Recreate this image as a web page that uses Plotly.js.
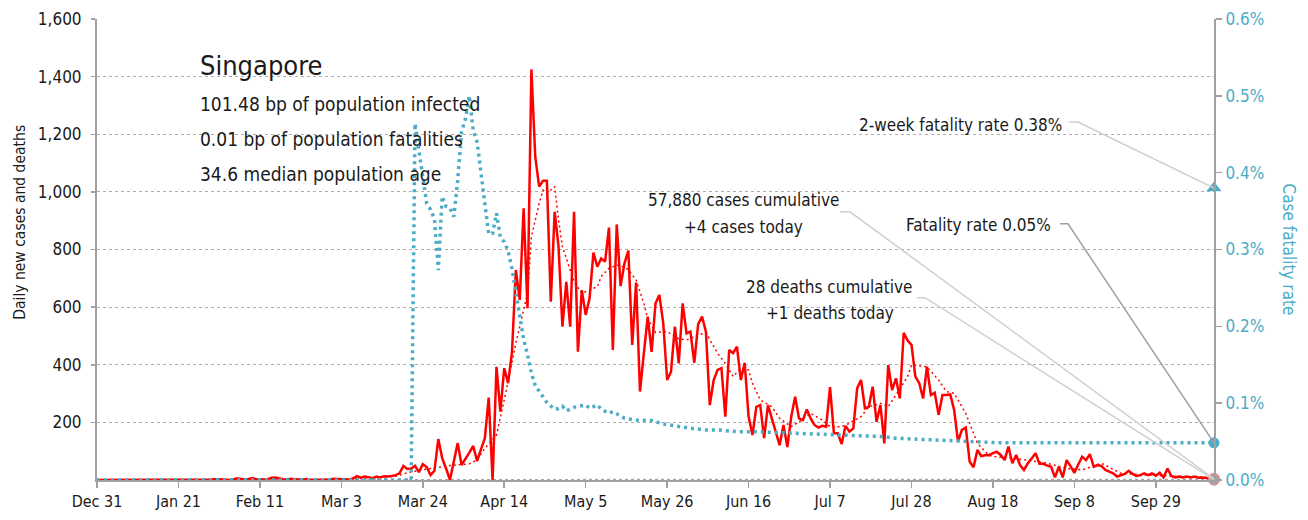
<!DOCTYPE html>
<html>
<head>
<meta charset="utf-8">
<script src="https://cdn.plot.ly/plotly-3.0.1.min.js"></script>
<style>
  html, body { margin: 0; padding: 0; background: #fff; }
  #chart { width: 1308px; height: 520px; }
</style>
</head>
<body>
<div id="chart"></div>
<script>
// day 0 = 2019-12-31, one value per day up to day 288 (2020-10-14)
var dailyCases = [
  0,0,0,0,0,0,0,0,0,0,
  0,0,0,0,0,0,0,0,0,0,
  0,0,0,0,1,2,0,1,1,2,
  3,3,3,2,0,0,6,4,2,3,
  7,3,2,2,3,8,9,5,3,2,
  4,3,1,1,3,0,1,1,2,3,
  2,4,4,2,2,2,5,13,8,12,
  10,6,12,9,13,12,14,17,23,49,
  38,40,49,27,55,45,17,32,142,76,
  40,0,64,128,52,76,95,118,66,106,
  145,286,0,393,237,388,336,445,729,625,
  943,596,1425,1122,1018,1039,1039,619,931,810,
  532,688,532,931,445,659,573,631,789,740,
  769,758,876,451,887,673,752,796,469,685,
  307,440,567,445,613,642,544,347,376,532,
  405,613,509,515,407,541,567,515,260,347,
  382,388,220,451,440,463,347,407,220,156,
  254,260,145,260,214,160,121,191,114,220,
  289,214,208,245,214,191,182,188,185,322,
  162,162,125,188,168,179,319,347,249,254,
  324,202,260,127,399,312,353,283,511,484,
  469,359,336,283,393,295,303,226,295,295,
  297,243,133,174,182,64,44,104,83,86,
  86,93,98,87,69,116,58,87,52,35,
  58,75,93,56,56,50,46,9,46,9,
  69,48,25,54,81,69,90,46,52,48,
  35,29,23,12,17,21,32,21,14,17,
  23,17,23,15,25,9,40,14,9,12,
  9,12,9,12,8,9,7,6,4
];

// 7-day average of cases, read at these days
var avgDays = [24,35,45,55,65,72,77,80,85,91,
  96,98,100,103,105,108,111,112,114,115,
  116,118,119,120,122,123,125,127,129,130,
  132,134,136,137,139,141,142,144,147,150,
  152,155,157,160,162,164,166,168,169,171,
  174,176,179,181,184,187,189,192,194,197,
  199,202,204,206,209,210,214,217,219,221,
  224,226,227,230,232,236,240,245,250,254,
  259,264,271,280,288];
var avgCases = [0.5,1.5,4,2,2.5,9,13,25,38,50,
  56,70,110,156,278,475,648,844,960,1006,
  995,1018,902,810,729,688,648,659,671,706,
  735,746,740,729,694,613,560,512,515,490,
  486,503,511,440,405,359,388,382,336,278,
  254,214,185,202,231,208,185,185,197,220,
  254,266,254,295,359,399,393,347,307,301,
  231,162,127,85,80,75,69,58,40,35,
  58,23,17,12,9];

// daily deaths (days with no deaths are 0)
var deathDays = [82,94,96,97,100,103,106,107,111,114,116,119,122,127,131,135,138,140,144,148,152,161,170,181,200,228,288];
var deathCounts = [2,1,1,1,1,1,1,1,1,1,1,1,1,1,1,1,1,1,1,1,1,1,1,1,1,1,1];

// case fatality rate, percent
var cfrDays = [0,81,82,83,84,85,86,87,88,89,
  90,91,92,93,94,95,96,97,98,99,
  100,101,102,103,104,105,106,107,108,109,
  110,111,112,113,115,116,118,119,120,121,
  123,126,127,129,130,132,133,135,136,139,
  143,146,150,153,157,160,165,170,176,181,
  186,191,196,203,206,212,217,222,227,232,288];
var cfrRate = [0,0,0.464,0.43,0.39,0.36,0.352,0.34,0.273,0.369,
  0.356,0.354,0.343,0.39,0.4535,0.47,0.50,0.455,0.44,0.404,
  0.36,0.32,0.321,0.347,0.316,0.31,0.298,0.275,0.243,0.214,
  0.183,0.163,0.139,0.123,0.109,0.101,0.092,0.093,0.096,0.09,
  0.0946,0.0977,0.0933,0.0977,0.092,0.0868,0.089,0.0833,0.0803,0.078,
  0.0773,0.0729,0.0694,0.0673,0.0651,0.0651,0.0629,0.0629,0.0616,0.0608,
  0.0595,0.0586,0.0573,0.0564,0.0543,0.053,0.0512,0.0499,0.0499,0.0486,0.0484];

var rateTicks = [0, 0.1, 0.2, 0.3, 0.4, 0.5, 0.6];
var rateLabels = ['0.0%', '0.1%', '0.2%', '0.3%', '0.4%', '0.5%', '0.6%'];

var lastDay = 288;
var casesToday = 4;
var deathsToday = 1;
var fatalityRate = 0.0484;
var twoWeekRate = 0.38;

var teal = '#4bacc6';
var red = '#ff0000';
var font = 'DejaVu Sans Condensed, Liberation Sans Narrow, sans-serif';

function dayToDate(i) {
  var d = new Date(Date.UTC(2019, 11, 31 + i));
  return d.toISOString().slice(0, 10);
}

var caseDates = dailyCases.map(function(v, i) { return dayToDate(i); });
var deaths = dailyCases.map(function() { return 0; });
deathDays.forEach(function(d, k) { deaths[d] = deathCounts[k]; });
var lastDate = dayToDate(lastDay);

var traces = [
  {
    x: caseDates, y: deaths, type: 'scatter', mode: 'lines',
    line: {color: '#a6a6a6', width: 2, dash: 'dot'}, hoverinfo: 'skip'
  },
  {
    x: caseDates, y: dailyCases, type: 'scatter', mode: 'lines',
    line: {color: red, width: 2.5}
  },
  {
    x: avgDays.map(dayToDate), y: avgCases, type: 'scatter', mode: 'lines',
    line: {color: red, width: 1.5, dash: '2px,3px'}
  },
  {
    x: cfrDays.map(dayToDate), y: cfrRate, yaxis: 'y2', type: 'scatter', mode: 'lines',
    line: {color: teal, width: 3.5, dash: '3px,4px'}
  },
  {
    x: [lastDate], y: [twoWeekRate], yaxis: 'y2', mode: 'markers', cliponaxis: false,
    marker: {symbol: 'triangle-up', size: 13, color: teal}
  },
  {
    x: [lastDate], y: [fatalityRate], yaxis: 'y2', mode: 'markers', cliponaxis: false,
    marker: {symbol: 'circle', size: 11, color: teal}
  },
  {
    x: [lastDate, lastDate], y: [casesToday, deathsToday], mode: 'markers', cliponaxis: false,
    marker: {symbol: 'circle', size: 11, color: '#a6a6a6', line: {color: '#f08080', width: 1}}
  }
];

function leader(yref, yval, path, color) {
  return {
    type: 'path', xref: 'x', yref: yref,
    xsizemode: 'pixel', ysizemode: 'pixel',
    xanchor: lastDate, yanchor: yval,
    path: path,
    line: {color: color, width: 1.5}
  };
}

var shapes = [
  leader('y2', twoWeekRate, 'M -145 66 L -136 66 L 0 0', '#cfcfcf'),
  leader('y2', fatalityRate, 'M -154 219 L -146 219 L 0 0', '#a0a0a0'),
  leader('y', casesToday, 'M -374 267 L -364 267 L 0 0', '#cfcfcf'),
  leader('y', deathsToday, 'M -297 182 L -289 182 L 0 0', '#cfcfcf')
];

function label(text, x, y, anchor, size) {
  return {
    text: text, xref: 'paper', yref: 'paper', x: x, y: y,
    xanchor: anchor, yanchor: 'middle', showarrow: false,
    font: {family: font, size: size || 17, color: '#1a1a1a'}
  };
}

var annotations = [
  label('Singapore', 0.0904, 0.900, 'left', 27),
  label('101.48 bp of population infected', 0.0904, 0.8156, 'left', 19),
  label('0.01 bp of population fatalities', 0.0904, 0.7397, 'left', 19),
  label('34.6 median population age', 0.0904, 0.6638, 'left', 19),
  label('2-week fatality rate 0.38%', 0.8657, 0.770, 'right'),
  label('57,880 cases cumulative', 0.5792, 0.6074, 'center'),
  label('+4 cases today', 0.5792, 0.5488, 'center'),
  label('Fatality rate 0.05%', 0.8559, 0.5531, 'right'),
  label('28 deaths cumulative', 0.6553, 0.4187, 'center'),
  label('+1 deaths today', 0.6562, 0.3623, 'center'),
  {
    text: 'Daily new cases and deaths', xref: 'paper', yref: 'paper',
    x: -0.069, y: 0.56, xanchor: 'center', yanchor: 'middle', textangle: -90,
    showarrow: false, font: {family: font, size: 15.5, color: '#1a1a1a'}
  },
  {
    text: 'Case fatality rate', xref: 'paper', yref: 'paper',
    x: 1.068, y: 0.50, xanchor: 'center', yanchor: 'middle', textangle: 90,
    showarrow: false, font: {family: font, size: 17, color: teal}
  }
];

var layout = {
  width: 1308, height: 520,
  margin: {l: 97, r: 94, t: 19, b: 40},
  paper_bgcolor: '#fff', plot_bgcolor: '#fff',
  showlegend: false,
  font: {family: font, size: 17, color: '#1a1a1a'},
  xaxis: {
    type: 'date', range: [dayToDate(0), lastDate],
    tick0: dayToDate(0), dtick: 21 * 86400000, tickformat: '%b %-d',
    ticks: 'outside', ticklen: 6, tickwidth: 1.5, tickcolor: '#a0a0a0',
    showline: true, linecolor: '#a0a0a0', linewidth: 2,
    showgrid: false, zeroline: false,
    tickfont: {family: font, size: 16, color: '#1a1a1a'}
  },
  yaxis: {
    range: [0, 1600], tickvals: [200, 400, 600, 800, 1000, 1200, 1400, 1600],
    tickformat: ',', ticks: 'outside', ticklen: 4, tickwidth: 1.5, tickcolor: '#a0a0a0',
    ticklabelstandoff: 6,
    showgrid: true, gridcolor: '#b0b0b0', griddash: 'dot', gridwidth: 1,
    showline: true, linecolor: '#a0a0a0', linewidth: 2, zeroline: false,
    tickfont: {family: font, size: 17, color: '#1a1a1a'}
  },
  yaxis2: {
    overlaying: 'y', side: 'right', range: [0, 0.6],
    tickvals: rateTicks, ticktext: rateLabels,
    ticks: 'outside', ticklen: 6, tickwidth: 1.5, tickcolor: '#a0a0a0',
    showgrid: false, zeroline: false,
    showline: true, linecolor: '#a0a0a0', linewidth: 2,
    tickfont: {family: font, size: 17, color: teal}
  },
  shapes: shapes,
  annotations: annotations
};

Plotly.newPlot('chart', traces, layout, {displayModeBar: false, staticPlot: true});
</script>
</body>
</html>
